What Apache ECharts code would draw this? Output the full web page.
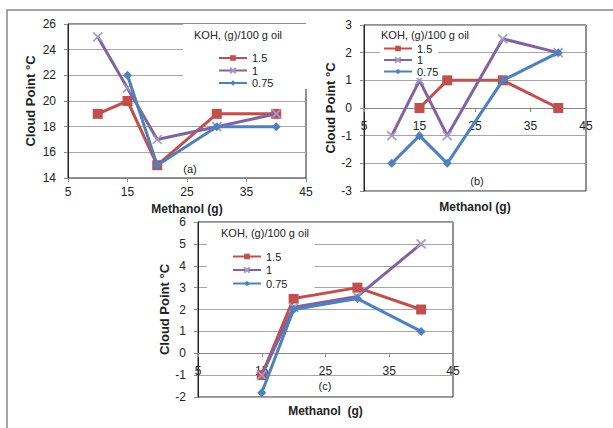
<!DOCTYPE html>
<html>
<head>
<meta charset="utf-8">
<script src="https://cdn.jsdelivr.net/npm/echarts@6/dist/echarts.min.js"></script>
<style>
html,body{margin:0;padding:0;background:#fff;}
#chart{width:613px;height:428px;}
</style>
</head>
<body>
<div id="chart"></div>
<script>
// ---- Data ----
const seriesNames = ['1.5', '1', '0.75'];
const legendTitle = 'KOH, (g)/100 g oil';
const xTicks = [5, 15, 25, 35, 45];

// (a)
const methanolA = [10, 15, 20, 30, 40];
const a_koh15  = [19, 20, 15, 19, 19];
const a_koh1   = [25, 21, 17, 18, 19];
const a_koh075 = [null, 22, 15, 18, 18];

// (b)
const methanolB = [10, 15, 20, 30, 40];
const b_koh15  = [null, 0, 1, 1, 0];
const b_koh1   = [-1, 1, -1, 2.5, 2];
const b_koh075 = [-2, -1, -2, 1, 2];

// (c)
const methanolC = [15, 20, 30, 40];
const c_koh15  = [-1, 2.5, 3, 2];
const c_koh1   = [-1, 2.1, 2.6, 5];
const c_koh075 = [-1.8, 2, 2.5, 1];

const yRangeA = [14, 26, 2];
const yRangeB = [-3, 3, 1];
const yRangeC = [-2, 6, 1];

// ---- Styling ----
const RED = '#C0504D', PURPLE = '#8064A2', PURPLE_M = '#A898C8', BLUE = '#4F81BD';
const FONT = 'Liberation Sans';
const CROSS = 'path://M0,0L10,10M10,0L0,10';

const grids = [
  { left: 68, top: 24, width: 238, height: 154 },
  { left: 364, top: 25, width: 222, height: 166 },
  { left: 198, top: 222, width: 255, height: 175 }
];

function pairs(xs, ys) {
  return xs.map((x, i) => [x, ys[i]]).filter(p => p[1] !== null);
}

function makeSeries(idx, xs, y15, y1, y075) {
  return [
    { name: seriesNames[0], type: 'line', xAxisIndex: idx, yAxisIndex: idx,
      data: pairs(xs, y15), symbol: 'rect', symbolSize: 10,
      lineStyle: { color: RED, width: 3 }, itemStyle: { color: RED }, z: 2 },
    { name: seriesNames[1], type: 'line', xAxisIndex: idx, yAxisIndex: idx,
      data: pairs(xs, y1), symbol: CROSS, symbolSize: 9,
      lineStyle: { color: PURPLE, width: 3 },
      itemStyle: { color: PURPLE_M, borderColor: PURPLE_M, borderWidth: 1.6 }, z: 3 },
    { name: seriesNames[2], type: 'line', xAxisIndex: idx, yAxisIndex: idx,
      data: pairs(xs, y075), symbol: 'diamond', symbolSize: 9,
      lineStyle: { color: BLUE, width: 3 }, itemStyle: { color: BLUE }, z: 4 }
  ];
}

// offset that puts the x axis on y = 0 (or at the bottom if 0 is out of range)
function zeroOffset(r, g) {
  if (r[0] >= 0) return 0;
  return -((0 - r[0]) / (r[1] - r[0])) * g.height;
}

function xAxisDef(idx, r, nameGap, name, labelMargin) {
  return {
    type: 'value', gridIndex: idx, min: xTicks[0], max: xTicks[xTicks.length - 1], interval: 10,
    position: 'bottom', offset: zeroOffset(r, grids[idx]),
    name: name, nameLocation: 'middle', nameGap: nameGap, nameMoveOverlap: false,
    nameTextStyle: { fontFamily: FONT, fontWeight: 'bold', fontSize: 12, lineHeight: 12, color: '#222' },
    axisLine: { onZero: false, lineStyle: { color: '#888', width: 1 } },
    axisTick: { show: true, length: 4, lineStyle: { color: '#888' } },
    axisLabel: { fontFamily: FONT, fontSize: 12, lineHeight: 12, color: '#222', margin: labelMargin },
    splitLine: { show: false }
  };
}

function yAxisDef(idx, r, nameGap) {
  return {
    type: 'value', gridIndex: idx, min: r[0], max: r[1], interval: r[2],
    name: 'Cloud Point °C', nameLocation: 'middle', nameGap: nameGap, nameRotate: 90,
    nameTextStyle: { fontFamily: FONT, fontWeight: 'bold', fontSize: 13, color: '#222' },
    axisLine: { show: true, onZero: false, lineStyle: { color: '#222', width: 1 } },
    axisTick: { show: true, length: 4, lineStyle: { color: '#888' } },
    axisLabel: { fontFamily: FONT, fontSize: 12, lineHeight: 12, color: '#222', margin: 12 },
    splitLine: { show: true, lineStyle: { color: '#a6a6a6', width: 1 } }
  };
}

function legendDef(left, top, padding, lineHeight) {
  return {
    data: seriesNames, orient: 'vertical', left: left, top: top,
    padding: padding, backgroundColor: '#fff',
    itemWidth: 28, itemHeight: 7, itemGap: 0.5,
    textStyle: { fontFamily: FONT, fontSize: 11, color: '#222', lineHeight: lineHeight },
    selectedMode: false
  };
}

function titleDef(left, top) {
  return { text: legendTitle, left: left, top: top, padding: 0,
    textStyle: { fontFamily: FONT, fontSize: 11, fontWeight: 'normal', color: '#222' } };
}

const chart = echarts.init(document.getElementById('chart'), null, { renderer: 'svg' });

const option = {
  backgroundColor: '#fff',
  animation: false,
  title: [titleDef(194, 29), titleDef(381, 29), titleDef(221, 227)],
  legend: [
    legendDef(183, 24, [28, 36, 0, 35], 12),
    legendDef(380, 27, [16, 0, 1, 3], 10),
    legendDef(207, 226, [24, 27, 4, 25], 13)
  ],
  grid: grids.map(g => Object.assign({ show: true, borderColor: '#222', borderWidth: 1, backgroundColor: 'transparent' }, g)),
  xAxis: [
    xAxisDef(0, yRangeA, 25, 'Methanol (g)', 8),
    xAxisDef(1, yRangeB, 93, 'Methanol (g)', 12),
    xAxisDef(2, yRangeC, 52, 'Methanol  (g)', 12)
  ],
  yAxis: [
    yAxisDef(0, yRangeA, 31),
    yAxisDef(1, yRangeB, 25),
    yAxisDef(2, yRangeC, 26)
  ],
  graphic: [
    { type: 'rect', shape: { x: 7, y: 10, width: 700, height: 500 }, style: { fill: 'none', stroke: '#888', lineWidth: 1.5 }, z: -10, silent: true },
    { type: 'text', x: 190, y: 169, style: { text: '(a)', font: '11px "Liberation Sans"', fill: '#222', textAlign: 'center', textVerticalAlign: 'middle' } },
    { type: 'text', x: 477, y: 181, style: { text: '(b)', font: '11px "Liberation Sans"', fill: '#222', textAlign: 'center', textVerticalAlign: 'middle' } },
    { type: 'text', x: 325, y: 386, style: { text: '(c)', font: '11px "Liberation Sans"', fill: '#222', textAlign: 'center', textVerticalAlign: 'middle' } }
  ],
  series: [].concat(
    makeSeries(0, methanolA, a_koh15, a_koh1, a_koh075),
    makeSeries(1, methanolB, b_koh15, b_koh1, b_koh075),
    makeSeries(2, methanolC, c_koh15, c_koh1, c_koh075)
  )
};

chart.setOption(option);
</script>
</body>
</html>
